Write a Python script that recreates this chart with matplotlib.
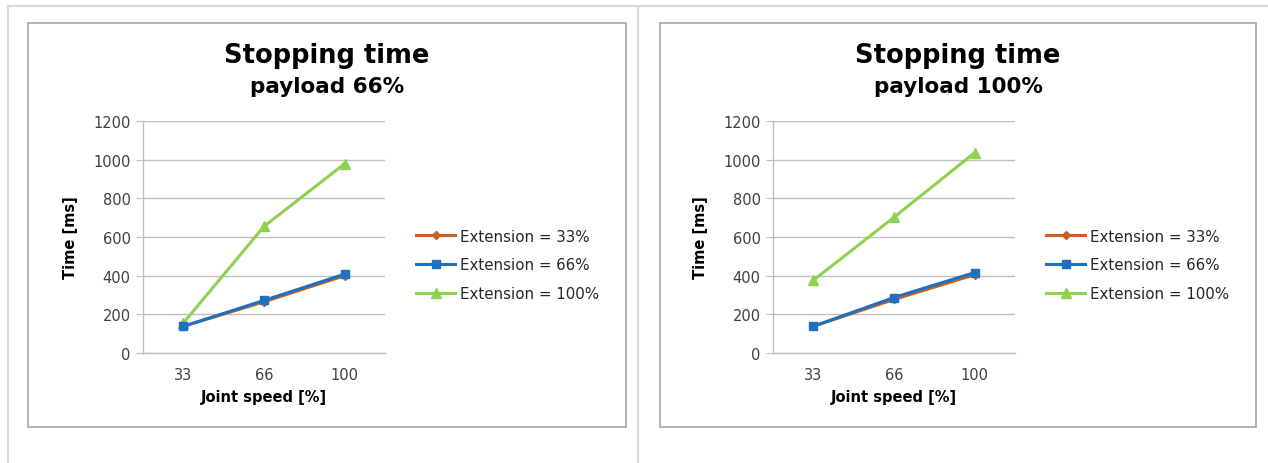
import matplotlib
matplotlib.use("Agg")
import matplotlib.pyplot as plt
from matplotlib.lines import Line2D
from matplotlib.patches import Rectangle

plt.rcParams['font.family'] = ['DejaVu Sans']

categories = ["33", "66", "100"]
yticks = [0, 200, 400, 600, 800, 1000, 1200]
series_names = ["Extension = 33%", "Extension = 66%", "Extension = 100%"]

p66_ext33 = [138, 265, 400]
p66_ext66 = [138, 272, 408]
p66_ext100 = [155, 655, 979]

p100_ext33 = [138, 277, 405]
p100_ext66 = [138, 287, 416]
p100_ext100 = [376, 702, 1036]

titles = ["Stopping time\npayload 66%", "Stopping time\npayload 100%"]

colors = ["#C8601E", "#1F70C1", "#92D050"]
markers = ["D", "s", "^"]
msizes = [4, 6, 6.5]

W, H = 1268, 464
fig = plt.figure(figsize=(W / 100, H / 100), dpi=100)

def fx(x):
    return x / W

def fy(y):
    return 1 - y / H

# outer light frame lines
fig.add_artist(Line2D([fx(8), 1], [fy(7), fy(7)], color="#d9d9d9", lw=1.5))
fig.add_artist(Line2D([fx(8), fx(8)], [fy(7), 0], color="#d9d9d9", lw=1.5))
fig.add_artist(Line2D([fx(638), fx(638)], [fy(7), 0], color="#d9d9d9", lw=1.5))

panels = [
    dict(box=(28, 24, 626, 428), ax=(143, 122, 385, 354), data=[p66_ext33, p66_ext66, p66_ext100], leg=416),
    dict(box=(660, 24, 1256, 428), ax=(773, 122, 1015, 354), data=[p100_ext33, p100_ext66, p100_ext100], leg=1046),
]

for i, p in enumerate(panels):
    bx0, by0, bx1, by1 = p["box"]
    fig.add_artist(Rectangle((fx(bx0), fy(by1)), fx(bx1 - bx0), (by1 - by0) / H,
                             fill=False, edgecolor="#a6a6a6", lw=1.2))
    x0, y0, x1, y1 = p["ax"]
    ax = fig.add_axes([fx(x0), fy(y1), fx(x1 - x0), (y1 - y0) / H])
    xs = list(range(len(categories)))
    handles = []
    for j, vals in enumerate(p["data"]):
        h, = ax.plot(xs, vals, color=colors[j], marker=markers[j], markersize=msizes[j],
                     lw=2.2, label=series_names[j], zorder=3 + (j == 1))
        handles.append(h)
    ax.set_xlim(-0.5, len(categories) - 0.5)
    ax.set_ylim(0, 1200)
    ax.set_yticks(yticks)
    ax.set_yticklabels([str(v) for v in yticks], fontsize=10.5, color="#404040")
    ax.set_xticks(xs)
    ax.set_xticklabels(categories, fontsize=10.5, color="#404040")
    ax.tick_params(axis="x", length=0, pad=10)
    ax.tick_params(axis="y", length=5, color="#bfbfbf", pad=4)
    ax.grid(axis="y", color="#bfbfbf", lw=1)
    ax.set_axisbelow(True)
    for s in ["top", "right"]:
        ax.spines[s].set_visible(False)
    for s in ["left", "bottom"]:
        ax.spines[s].set_color("#bfbfbf")
        ax.spines[s].set_linewidth(1)
    ax.set_ylabel("Time [ms]", fontsize=10.5, fontweight="bold", labelpad=11)
    ax.set_xlabel("Joint speed [%]", fontsize=10.5, fontweight="bold", labelpad=5)
    cx = (bx0 + bx1) / 2
    t1, t2 = titles[i].split("\n")
    fig.text(fx(cx), fy(56), t1, ha="center", va="center", fontsize=18.5, fontweight="bold")
    fig.text(fx(cx), fy(87), t2, ha="center", va="center", fontsize=15.5, fontweight="bold")
    leg = fig.legend(handles=handles, loc="center left", bbox_to_anchor=(fx(p["leg"]), fy(266)),
                     frameon=False, fontsize=10.8, handlelength=2.6, handletextpad=0.35,
                     labelspacing=0.92, borderaxespad=0, borderpad=0)
    for t in leg.get_texts():
        t.set_color("#262626")

fig.savefig("out.png", dpi=100, facecolor="white")
